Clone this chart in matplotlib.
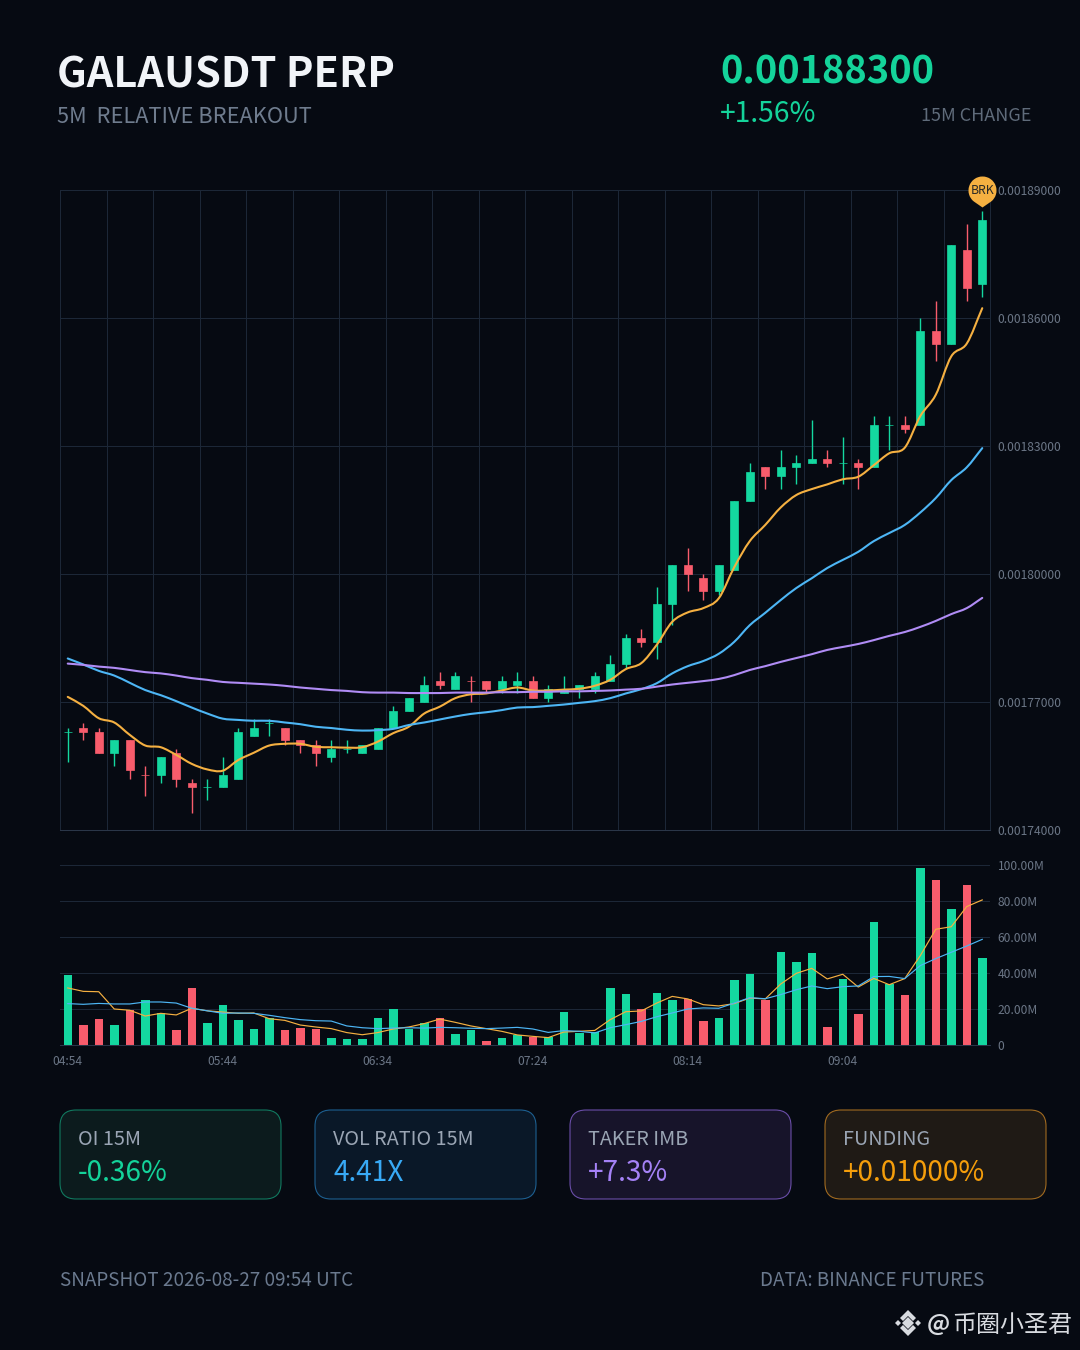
import matplotlib
matplotlib.use("Agg")
import matplotlib.pyplot as plt
import numpy as np
from matplotlib.patches import FancyBboxPatch, Polygon, PathPatch
from matplotlib.path import Path

plt.rcParams['font.family'] = ['Noto Sans CJK SC', 'DejaVu Sans']

# prices are in units of 0.000001
opens = [1763,1764,1763,1758,1761,1753,1753,1758,1751,1750,1750,1752,1762,1765,1764,1761,1760,1757,1759,1758,
         1759,1764,1768,1770,1775,1773,1775,1775,1773,1774,1775,1771,1772,1773,1773,1775,1779,1785,1784,1793,
         1802,1799,1796,1801,1817,1825,1823,1825,1826,1827,1826,1826,1825,1835,1835,1835,1857,1854,1876,1868]
closes = [1763,1763,1758,1761,1754,1753,1757,1752,1750,1750,1753,1763,1764,1765,1761,1760,1758,1759,1759,1760,
          1764,1768,1771,1774,1774,1776,1775,1773,1775,1775,1771,1773,1773,1774,1776,1779,1785,1784,1793,1802,
          1800,1796,1802,1817,1824,1823,1825,1826,1827,1826,1826,1825,1835,1835,1834,1857,1854,1877,1867,1883]
highs = [1764,1765,1764,1761,1761,1755,1757,1759,1752,1752,1757,1764,1766,1766,1764,1761,1761,1761,1761,1760,
         1764,1769,1771,1776,1777,1777,1776,1775,1776,1777,1776,1774,1776,1774,1777,1781,1786,1787,1797,1802,
         1806,1800,1802,1817,1826,1825,1829,1828,1836,1829,1832,1827,1837,1837,1837,1860,1864,1877,1882,1885]
lows = [1756,1761,1758,1755,1752,1748,1751,1750,1744,1747,1750,1752,1762,1762,1760,1758,1755,1756,1758,1758,
        1759,1764,1768,1770,1773,1773,1770,1772,1772,1772,1771,1770,1772,1771,1772,1775,1778,1783,1780,1788,
        1796,1794,1795,1801,1817,1820,1820,1821,1826,1825,1821,1820,1825,1829,1833,1835,1850,1854,1864,1865]
ma_fast = [1771.2,1769.1,1766.2,1765.2,1762.3,1759.8,1759.4,1757.6,1755.5,1754.2,1753.9,1756.4,1758.1,1759.8,1760.2,
           1760.2,1759.5,1759.4,1759.3,1759.4,1760.7,1762.7,1764.2,1767.3,1768.9,1770.9,1771.8,1772.0,1772.7,1773.4,
           1772.7,1772.7,1772.9,1773.1,1773.8,1775.2,1777.7,1779.1,1783.4,1788.8,1791.0,1792.0,1794.3,1801.6,1807.7,
           1811.5,1815.6,1818.5,1819.9,1821.0,1822.2,1822.8,1825.5,1828.3,1829.6,1837.0,1842.0,1851.0,1854.0,1862.3]
ma_mid = [1780.2,1778.8,1777.3,1776.2,1774.5,1772.8,1771.6,1770.2,1768.7,1767.3,1766.1,1765.8,1765.6,1765.6,1765.2,
          1764.8,1764.2,1763.9,1763.5,1763.3,1763.4,1763.7,1764.6,1765.2,1765.9,1766.6,1767.2,1767.6,1768.1,1768.7,
          1768.8,1769.1,1769.4,1769.8,1770.2,1770.9,1772.0,1773.0,1774.4,1776.7,1778.4,1779.6,1781.3,1784.1,1788.0,
          1790.9,1793.9,1796.7,1799.0,1801.4,1803.3,1805.2,1807.7,1809.6,1811.5,1814.4,1817.8,1822.0,1825.0,1829.5]
ma_slow = [1779.0,1778.7,1778.3,1778.0,1777.5,1777.0,1776.7,1776.2,1775.6,1775.2,1774.7,1774.5,1774.3,1774.1,1773.8,
           1773.4,1773.1,1772.8,1772.6,1772.3,1772.2,1772.2,1772.1,1772.1,1772.1,1772.2,1772.2,1772.2,1772.3,1772.3,
           1772.4,1772.4,1772.5,1772.5,1772.6,1772.7,1772.9,1773.1,1773.6,1774.1,1774.5,1774.9,1775.4,1776.3,1777.5,
           1778.4,1779.4,1780.3,1781.2,1782.2,1782.9,1783.6,1784.5,1785.5,1786.4,1787.6,1789.0,1790.6,1792.0,1794.4]
# volume in millions
volumes = [38.9,10.9,14.3,11.1,19.4,25.2,17.8,8.5,31.9,12.2,22.4,14.1,8.7,15.0,8.5,9.3,9.1,3.7,3.3,3.3,
           15.0,20.2,8.7,12.2,14.8,6.1,8.5,2.2,4.1,5.4,4.3,4.4,18.3,6.7,7.0,31.9,28.1,20.0,29.1,25.2,
           25.7,13.1,15.2,36.3,39.4,24.8,51.7,46.3,51.1,10.2,36.5,17.2,68.5,33.7,28.0,98.5,91.9,75.7,88.7,48.3]
vol_fast = [31.7,29.8,29.6,20.0,19.3,16.1,17.6,16.7,20.4,19.0,18.3,17.6,17.8,14.6,13.7,11.1,10.0,9.1,6.9,5.7,
            6.9,8.9,10.0,11.9,14.4,12.6,10.6,9.1,7.6,5.6,4.8,4.1,7.2,7.6,8.1,14.1,18.5,18.9,23.3,27.0,
            25.6,22.4,21.7,23.0,26.1,25.6,33.9,39.8,42.6,36.7,39.3,32.2,37.0,33.5,36.9,49.6,64.3,65.7,76.9,80.6]
vol_slow = [23.0,22.6,23.1,22.8,22.8,23.9,23.9,23.3,20.4,19.0,17.6,17.8,17.6,16.5,15.2,14.1,13.5,13.3,10.6,9.6,
            9.1,9.4,9.6,9.4,9.8,9.6,9.3,9.1,9.4,9.8,8.9,7.0,8.0,7.6,6.7,9.6,11.3,13.1,15.7,17.8,
            20.0,20.6,20.4,23.3,26.3,25.7,28.0,30.7,32.8,31.3,32.4,32.8,38.0,38.1,36.9,44.1,48.0,51.5,55.0,58.7]

price_ticks = [1740,1770,1800,1830,1860,1890]
vol_ticks = [0,20,40,60,80,100]
vol_labels = ["0","20.00M","40.00M","60.00M","80.00M","100.00M"]
time_labels = ["04:54","05:44","06:34","07:24","08:14","09:04"]
cards = [("OI 15M","-0.36%","#14d39a","#0c1b1d","#11795f"),
         ("VOL RATIO 15M","4.41X","#38a9f5","#0a1828","#1d5f90"),
         ("TAKER IMB","+7.3%","#a582f7","#17142a","#6a4ea8"),
         ("FUNDING","+0.01000%","#f59e0b","#1f1a15","#a06a20")]

BG = "#060a12"
GRID = "#1c2737"
AXIS = "#2a3648"
GREEN = "#14d8a0"
RED = "#f85c6c"
ORANGE = "#f5b041"
BLUE = "#4db6f5"
PURPLE = "#b08cf5"
TICK = "#6b7686"
W, H = 1080, 1350

fig = plt.figure(figsize=(W/100, H/100), dpi=100, facecolor=BG)

# background layer in pixel coordinates, for the header, cards and footer
bg = fig.add_axes([0, 0, 1, 1])
bg.set_xlim(0, W)
bg.set_ylim(H, 0)
bg.axis("off")

def put(x, y, s, px, color, **kw):
    bg.text(x, y, s, fontsize=px*0.72, color=color, va="baseline", **kw)

put(57, 88, "GALAUSDT PERP", 41.5, "#f1f4f8", fontweight="bold")
put(57, 123, "5M  RELATIVE BREAKOUT", 21.8, "#6f7c8e")
put(720, 84, "0.00188300", 38, "#14d39a", fontweight="bold")
put(720, 122, "+1.56%", 28.2, "#14d39a")
put(921, 121, "15M CHANGE", 18, "#5f6b7a")

card_x = [60, 315, 570, 825]
for x0, (name, val, col, fill, edge) in zip(card_x, cards):
    bg.add_patch(FancyBboxPatch((x0+16, 1110+16), 221-32, 89-32, boxstyle="round,pad=16,rounding_size=16",
                                facecolor=fill, edgecolor=edge, linewidth=0.8))
    put(x0+18, 1145, name, 19.8, "#9aa5b4")
    put(x0+18, 1181, val, 28, col)

put(60, 1286, "SNAPSHOT 2026-08-27 09:54 UTC", 18.9, "#6b7a8f")
put(760, 1286, "DATA: BINANCE FUTURES", 18.9, "#6b7a8f")

# watermark
LOGO = "#d8dbe0"
bg.add_patch(Polygon([(908,1317),(914,1323),(908,1329),(902,1323)], color=LOGO, lw=0))
bg.add_patch(Polygon([(898,1320),(901,1323),(898,1326),(895,1323)], color=LOGO, lw=0))
bg.add_patch(Polygon([(918,1320),(921,1323),(918,1326),(915,1323)], color=LOGO, lw=0))
bg.add_patch(Polygon([(908,1310),(916,1318),(913,1321),(908,1316),(903,1321),(900,1318)], color=LOGO, lw=0))
bg.add_patch(Polygon([(908,1336),(916,1328),(913,1325),(908,1330),(903,1325),(900,1328)], color=LOGO, lw=0))
put(927, 1331, "@", 23, LOGO, fontweight="bold")
put(952, 1332, "币圈小圣君", 24, LOGO)

# price panel
ax = fig.add_axes([60/W, 1-830/H, 930/W, 640/H], facecolor="none")
x = np.arange(len(closes))
ax.set_xlim(-0.5, 59.5)
ax.set_ylim(1740, 1890)

up = []
for i in x:
    if closes[i] != opens[i]:
        up.append(closes[i] > opens[i])
    else:
        # flat candle takes its colour from the previous close
        up.append(i == 0 or closes[i] >= closes[i-1])
candle_colors = [GREEN if u else RED for u in up]
ax.vlines(x, lows, highs, colors=candle_colors, linewidth=1.0, zorder=2)
bottoms = np.minimum(opens, closes)
heights = np.abs(np.array(closes) - np.array(opens))
ax.bar(x, heights, 8/15.5, bottom=bottoms, color=candle_colors, edgecolor=candle_colors, linewidth=0.5, zorder=2.5)

def smooth_line(axis, xs, ys, color, lw):
    # bezier through the readings, the chart's lines are splined
    pts = np.column_stack([xs, ys])
    tangents = np.gradient(pts, axis=0) / 3
    verts = [pts[0]]
    codes = [Path.MOVETO]
    for a in range(len(pts)-1):
        verts += [pts[a]+tangents[a], pts[a+1]-tangents[a+1], pts[a+1]]
        codes += [Path.CURVE4]*3
    axis.add_patch(PathPatch(Path(verts, codes), fill=False, edgecolor=color, lw=lw, zorder=3, capstyle="round"))

smooth_line(ax, x, ma_fast, ORANGE, 1.5)
smooth_line(ax, x, ma_mid, BLUE, 1.5)
smooth_line(ax, x, ma_slow, PURPLE, 1.5)

ax.set_yticks(price_ticks)
ax.set_yticklabels([f"{p/1e6:.8f}" for p in price_ticks])
ax.set_xticks(np.arange(-0.5, 60, 3))
ax.set_xticklabels([])
ax.grid(True, color=GRID, lw=0.75, zorder=0)
ax.set_axisbelow(True)
ax.tick_params(axis="both", length=0)
ax.tick_params(axis="y", labelsize=8.7, labelcolor=TICK, pad=5.5, labelright=True, labelleft=False)
for s in ax.spines.values():
    s.set_color(GRID)
    s.set_linewidth(0.75)
ax.spines["bottom"].set_color(AXIS)

# breakout pin sits just above the high of the last candle
arc = Path.arc(-52, 232)
pin_verts = np.vstack([arc.vertices*14 + [0, 21], [[0, 4], [0, 4]]])
pin_codes = list(arc.codes) + [Path.LINETO, Path.CLOSEPOLY]
pin = Path(pin_verts, pin_codes)
ax.plot([59], [highs[59]], marker=pin, markersize=70*0.72, color=ORANGE, mec="none", clip_on=False, zorder=5)
ax.annotate("BRK", (59, highs[59]), xytext=(0, 15), textcoords="offset points", ha="center", va="center",
            fontsize=8.8, color="#2b2a26", zorder=6, annotation_clip=False)

# volume panel
vax = fig.add_axes([60/W, 1-1045/H, 930/W, 180/H], facecolor="none")
vax.set_xlim(-0.5, 59.5)
vax.set_ylim(0, 100)
vol_colors = [GREEN if c >= o else RED for o, c in zip(opens, closes)]
vax.bar(x, volumes, 8.5/15.5, color=vol_colors, zorder=2)
vax.plot(x, vol_fast, color=ORANGE, lw=0.85, zorder=3)
vax.plot(x, vol_slow, color=BLUE, lw=0.85, zorder=3)
vax.set_yticks(vol_ticks)
vax.set_yticklabels(vol_labels)
vax.set_xticks(x[::10])
vax.set_xticklabels(time_labels)
vax.grid(True, axis="y", color=GRID, lw=0.75, zorder=0)
vax.set_axisbelow(True)
vax.tick_params(axis="both", length=0)
vax.tick_params(axis="y", labelsize=8.7, labelcolor=TICK, pad=5.5, labelright=True, labelleft=False)
vax.tick_params(axis="x", labelsize=8.7, labelcolor=TICK, pad=7)
for name, s in vax.spines.items():
    s.set_visible(name == "bottom")
vax.spines["bottom"].set_color(AXIS)
vax.spines["bottom"].set_linewidth(0.75)

fig.savefig("out.png", dpi=100, facecolor=BG)
